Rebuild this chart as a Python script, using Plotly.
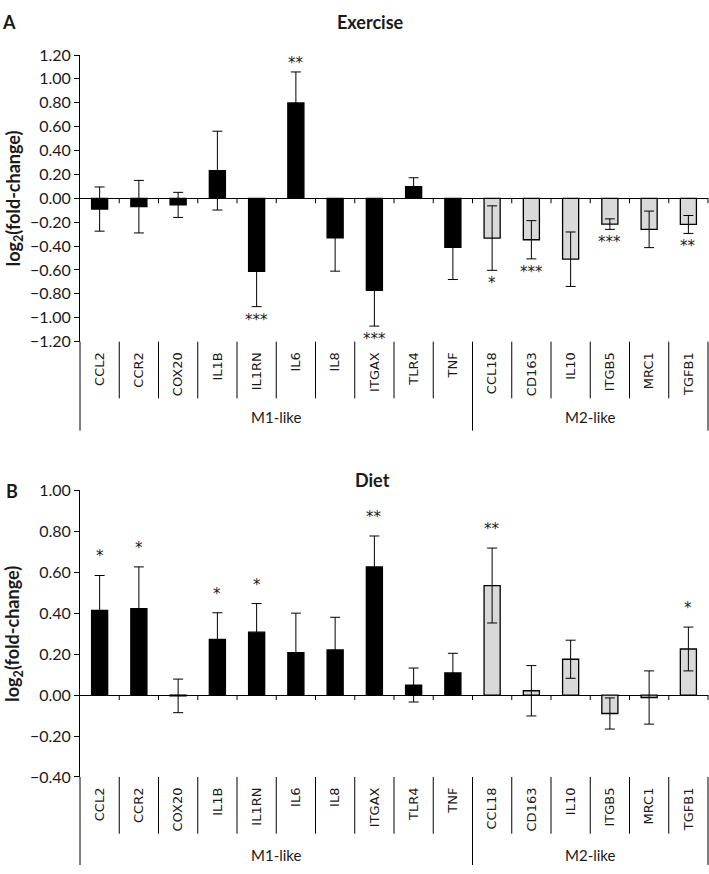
import plotly.graph_objects as go

genes = ["CCL2", "CCR2", "COX20", "IL1B", "IL1RN", "IL6", "IL8", "ITGAX", "TLR4", "TNF",
         "CCL18", "CD163", "IL10", "ITGB5", "MRC1", "TGFB1"]
group_names = ["M1-like", "M2-like"]
group_sizes = [10, 6]

exercise_fc = [-0.09, -0.07, -0.055, 0.232, -0.612, 0.798, -0.33, -0.77, 0.098, -0.41,
               -0.333, -0.347, -0.51, -0.216, -0.26, -0.219]
exercise_err = [0.185, 0.22, 0.105, 0.33, 0.295, 0.26, 0.28, 0.30, 0.074, 0.27,
                0.27, 0.16, 0.228, 0.044, 0.153, 0.075]
exercise_sig = ["", "", "", "", "***", "**", "", "***", "", "",
                "*", "***", "", "***", "", "**"]

diet_fc = [0.414, 0.422, -0.004, 0.272, 0.307, 0.207, 0.22, 0.626, 0.049, 0.108,
           0.535, 0.021, 0.175, -0.09, -0.012, 0.225]
diet_err = [0.17, 0.204, 0.082, 0.13, 0.14, 0.193, 0.16, 0.151, 0.083, 0.096,
            0.183, 0.123, 0.093, 0.076, 0.13, 0.107]
diet_sig = ["*", "*", "", "*", "*", "", "", "**", "", "",
            "**", "", "", "", "", "*"]

W, H = 709, 874
BLACK = "#000000"
GREY = "#d9d9d9"
TXT = "#1a1a1a"
NUM_FONT = "Lato"
CAT_FONT = "DejaVu Sans"

bar_colors = []
for name, n in zip(group_names, group_sizes):
    bar_colors += [BLACK if name == "M1-like" else GREY] * n

# pixel layout of the two panels
x_left, x_right = 80, 708
panels = [
    dict(fc=exercise_fc, err=exercise_err, sig=exercise_sig, top=46, bottom=339,
         rng=[-1.2, 1.2], title="Exercise", letter="A", title_y=12, letter_y=12,
         title_x=370, letter_x=9, grp_y=416, long_y=430, pos_gap=9, neg_gap=13),
    dict(fc=diet_fc, err=diet_err, sig=diet_sig, top=491, bottom=784,
         rng=[-0.4, 1.0], title="Diet", letter="B", title_y=480, letter_y=492,
         title_x=373, letter_x=12, grp_y=864, long_y=874, pos_gap=19, neg_gap=13),
]

fig = go.Figure()
shapes = []
annotations = []
n = len(genes)


def label(**kw):
    kw.setdefault("showarrow", False)
    kw.setdefault("xanchor", "center")
    kw.setdefault("yanchor", "middle")
    annotations.append(kw)


for k, p in enumerate(panels):
    sfx = "" if k == 0 else str(k + 1)
    xa, ya = "x" + sfx, "y" + sfx
    fig.add_trace(go.Bar(
        x=genes, y=p["fc"], xaxis=xa, yaxis=ya, width=0.41,
        marker=dict(color=bar_colors, line=dict(color=BLACK, width=1.3)),
        error_y=dict(type="data", array=p["err"], visible=True,
                     color=BLACK, thickness=1, width=5),
        hoverinfo="x+y",
    ))

    dom = [1 - p["bottom"] / H, 1 - p["top"] / H]
    ph = p["bottom"] - p["top"]
    fig.update_layout(**{
        "xaxis" + sfx: dict(
            domain=[x_left / W, x_right / W], anchor=ya, type="category",
            range=[-0.5, n - 0.5], tickangle=-90, showline=False, ticks="",
            showgrid=False, zeroline=False, ticklabelstandoff=7,
            tickfont=dict(family=CAT_FONT, size=13, color=TXT),
        ),
        "yaxis" + sfx: dict(
            domain=dom, anchor=xa, range=p["rng"], dtick=0.2, tick0=0,
            tickformat=".2f", showline=True, linecolor=BLACK, linewidth=1,
            ticks="outside", ticklen=5, tickcolor=BLACK, showgrid=False,
            zeroline=True, zerolinecolor=BLACK, zerolinewidth=1,
            tickfont=dict(family=NUM_FONT, size=16, color=TXT),
        ),
    })

    xd, yd = xa + " domain", ya + " domain"
    lo, hi = p["rng"]
    zero = (0 - lo) / (hi - lo)
    bounds = [0]
    for s in group_sizes:
        bounds.append(bounds[-1] + s)
    for i in range(n + 1):
        fx = i / n
        # small tick marks on the zero line
        if i > 0:
            shapes.append(dict(type="line", xref=xd, yref=yd, x0=fx, x1=fx,
                               y0=zero, y1=zero - 5 / ph,
                               line=dict(color=BLACK, width=1)))
        # separators under the plot
        depth = (p["long_y"] - p["bottom"]) if i in bounds else 58
        shapes.append(dict(type="line", xref=xd, yref=yd, x0=fx, x1=fx,
                           y0=0, y1=-depth / ph, line=dict(color=BLACK, width=1)))

    start = 0
    for name, s in zip(group_names, group_sizes):
        label(xref=xd, yref=yd, x=(start + s / 2) / n,
              y=-(p["grp_y"] - p["bottom"]) / ph, text=name,
              font=dict(family=NUM_FONT, size=15, color=TXT))
        start += s

    for g, v, e, s in zip(genes, p["fc"], p["err"], p["sig"]):
        if not s:
            continue
        if v >= 0:
            y, shift = v + e, p["pos_gap"]
        else:
            y, shift = v - e, -p["neg_gap"]
        label(xref=xa, yref=ya, x=g, y=y, yshift=shift, text=s,
              font=dict(family=CAT_FONT, size=15, color=TXT))

    label(xref="paper", yref="paper", x=p["title_x"] / W, y=1 - p["title_y"] / H,
          text="<b>" + p["title"] + "</b>",
          font=dict(family=NUM_FONT, size=18, color=TXT))
    label(xref="paper", yref="paper", x=p["letter_x"] / W, y=1 - p["letter_y"] / H,
          text="<b>" + p["letter"] + "</b>",
          font=dict(family=NUM_FONT, size=18, color=TXT))
    label(xref="paper", yref="paper", x=14 / W, y=(dom[0] + dom[1]) / 2,
          text="<b>log<sub>2</sub>(fold-change)</b>", textangle=-90,
          font=dict(family=NUM_FONT, size=18, color=TXT))

fig.update_layout(
    width=W, height=H, margin=dict(l=0, r=0, t=0, b=0),
    plot_bgcolor="white", paper_bgcolor="white", showlegend=False,
    shapes=shapes, annotations=annotations,
)

fig.write_html("out.html", config={"displayModeBar": False},
               post_script="document.body.style.margin='0';")
